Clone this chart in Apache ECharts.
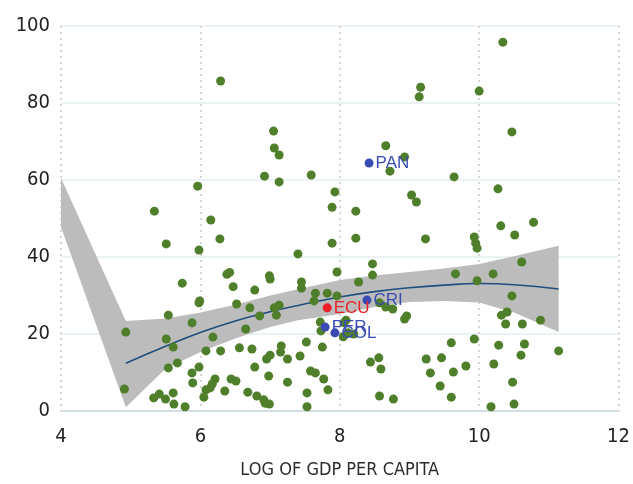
<!DOCTYPE html>
<html><head><meta charset="utf-8">
<script src="https://cdn.jsdelivr.net/npm/echarts@6/dist/echarts.min.js"></script>
<style>html,body{margin:0;padding:0;background:#fff}#c{width:633px;height:484px}</style>
</head><body><div id="c"></div>
<script>
// x ticks / y ticks
const xTicks = [4, 6, 8, 10, 12];
const yTicks = [0, 20, 40, 60, 80, 100];
const xTitle = 'LOG OF GDP PER CAPITA';

// green countries: log GDP per capita
const greenX = [6.29,7.05,7.06,7.13,6.92,7.13,7.59,5.96,5.34,6.15,10.34,9.16,9.14,10.0,10.47,8.66,8.93,8.72,9.64,7.93,
7.89,8.23,9.03,9.10,10.27,10.78,6.28,5.51,5.98,7.40,5.74,6.38,6.42,6.47,6.78,6.99,7.00,7.45,7.45,5.98,
5.99,6.52,6.71,7.06,7.13,7.09,6.85,7.63,7.65,5.54,5.88,4.93,5.51,5.61,6.18,6.65,6.08,6.29,6.56,6.74,
7.16,7.15,7.52,7.43,7.25,7.00,6.95,5.67,5.54,5.98,5.88,5.89,6.78,6.98,7.58,7.65,6.21,6.17,6.14,6.08,
6.05,6.44,6.51,6.35,6.68,6.81,7.25,6.91,6.99,6.93,4.91,5.33,5.41,5.50,5.61,5.62,5.78,7.53,7.53,7.89,
8.23,9.23,8.47,8.47,7.96,8.27,7.82,7.96,8.57,8.66,8.76,8.93,8.96,7.72,7.73,8.05,8.12,8.20,8.06,8.09,
7.75,8.44,8.56,8.59,9.24,9.46,9.30,9.44,7.77,7.83,8.57,8.77,10.31,10.51,9.93,9.95,9.97,10.61,9.66,10.20,
9.97,10.47,10.32,10.40,10.38,10.62,10.88,11.14,10.28,10.65,10.60,9.93,9.60,10.21,10.48,10.50,10.17,9.81,9.63,9.60];
// green countries: values
const greenY = [85.7,72.7,68.3,66.5,61.0,59.5,61.3,58.4,51.9,49.6,95.8,84.1,81.6,83.1,72.5,68.9,66.0,62.3,60.8,56.9,
52.9,51.9,56.1,54.3,57.7,49.0,44.7,43.4,41.8,40.8,33.2,35.5,36.0,32.3,31.4,35.1,34.3,33.5,31.9,28.1,
28.6,27.8,26.8,26.8,27.5,24.9,24.7,28.6,30.6,24.9,22.9,20.5,18.7,16.6,19.2,21.3,15.6,15.6,16.4,16.1,
16.9,15.3,17.9,14.3,13.5,14.5,13.5,12.5,11.2,11.4,9.9,7.3,11.4,9.1,10.4,9.9,8.3,7.0,6.0,5.5,
3.6,8.3,7.8,5.2,4.9,3.9,7.5,2.9,1.8,2.0,5.7,3.4,4.4,3.1,4.7,1.8,1.1,4.7,1.1,43.6,
44.9,44.7,38.2,35.3,36.1,33.5,30.6,29.9,28.1,27.0,26.5,23.9,24.7,23.1,20.8,19.3,20.3,20.0,22.9,23.6,
16.6,12.7,13.8,10.9,13.5,13.8,9.9,6.5,8.3,5.5,3.9,3.1,48.1,45.7,45.2,43.6,42.3,38.7,35.6,35.6,
33.8,29.9,24.9,25.7,22.6,22.6,23.6,15.6,17.1,17.4,14.5,18.7,17.7,12.2,7.5,1.8,1.1,11.7,10.1,3.6];

// highlighted countries
const hlNames = ['PAN', 'CRI', 'PER', 'COL'];
const hlX = [8.42, 8.39, 7.79, 7.93];
const hlY = [64.4, 28.8, 21.8, 20.3];
const ecuName = 'ECU';
const ecuX = 7.82;
const ecuY = 26.8;

// fitted curve
const fitX = [4.93, 5.5, 6.0, 6.5, 7.0, 7.4, 8.0, 8.5, 9.0, 9.5, 10.0, 10.5, 11.14];
const fitY = [12.4, 16.8, 20.4, 23.4, 25.8, 27.4, 29.6, 31.0, 32.0, 32.7, 33.1, 32.8, 31.7];
// confidence band
const bandX  = [4.0, 4.93, 5.5, 6.0, 6.5, 7.0, 7.4, 8.0, 8.5, 9.0, 9.5, 10.0, 10.5, 11.14];
const bandLo = [47.8, 1.0, 11.0, 15.3, 18.8, 21.8, 23.6, 25.2, 27.0, 28.3, 28.6, 28.2, 25.6, 20.5];
const bandHi = [60.5, 23.4, 24.0, 25.6, 27.6, 30.0, 31.6, 34.0, 35.2, 36.1, 37.0, 38.2, 40.2, 42.9];

const green = greenX.map((x, i) => [x, greenY[i]]);
const hl = hlX.map((x, i) => ({ value: [x, hlY[i]], name: hlNames[i] }));
const fit = fitX.map((x, i) => [x, fitY[i]]);
const band = bandX.map((x, i) => [x, bandLo[i], bandHi[i]]);

const tickFont = '"Liberation Sans Narrow","DejaVu Sans Condensed","Roboto Condensed",sans-serif';
const labelFont = '"Liberation Sans",Arial,sans-serif';
const chart = echarts.init(document.getElementById('c'), null, { renderer: 'canvas' });
chart.setOption({
  animation: false,
  grid: { left: 61, right: 11, top: 26, bottom: 73 },
  xAxis: {
    type: 'value', min: xTicks[0], max: xTicks[xTicks.length - 1], interval: 2,
    name: xTitle, nameLocation: 'middle', nameGap: 50,
    nameTextStyle: { fontFamily: tickFont, fontSize: 18, color: '#2b2b2b' },
    axisLine: { show: true, lineStyle: { color: '#c9d7de', width: 1.5 } },
    axisTick: { show: false },
    axisLabel: { fontFamily: tickFont, fontSize: 20, color: '#222', margin: 16 },
    splitLine: { show: true, lineStyle: { color: '#c8c8c8', type: [2, 4], width: 1.5 } }
  },
  yAxis: {
    type: 'value', min: yTicks[0], max: yTicks[yTicks.length - 1], interval: 20,
    axisLine: { show: false }, axisTick: { show: false },
    axisLabel: { fontFamily: tickFont, fontSize: 20, color: '#222', margin: 11 },
    splitLine: { show: true, lineStyle: { color: '#e3eef2', width: 1.5 } }
  },
  series: [
    {
      type: 'custom', z: 1, silent: true,
      data: band,
      renderItem: function (params, api) {
        if (params.dataIndex !== 0) return null;
        const top = band.map(d => api.coord([d[0], d[2]]));
        const bot = band.slice().reverse().map(d => api.coord([d[0], d[1]]));
        return { type: 'polygon', shape: { points: top.concat(bot) }, style: { fill: '#bcbcbc' } };
      }
    },
    {
      type: 'line', z: 3, data: fit, showSymbol: false, smooth: true,
      lineStyle: { color: '#1f4f7e', width: 1.6 }
    },
    {
      type: 'scatter', z: 4, data: green, symbolSize: 9,
      itemStyle: { color: '#4f7f2a', opacity: 1 }
    },
    {
      type: 'scatter', z: 5, data: hl, symbolSize: 9,
      itemStyle: { color: '#3a4cb3', opacity: 1 },
      label: { show: true, position: 'right', distance: 2, formatter: '{b}',
        color: '#3a4cb3', fontSize: 17, fontWeight: 500, fontFamily: labelFont }
    },
    {
      type: 'scatter', z: 5, data: [{ value: [ecuX, ecuY], name: ecuName }], symbolSize: 9,
      itemStyle: { color: '#ec1f27', opacity: 1 },
      label: { show: true, position: 'right', distance: 2, formatter: '{b}',
        color: '#ec1f27', fontSize: 17, fontWeight: 500, fontFamily: labelFont }
    }
  ]
});
</script></body></html>
